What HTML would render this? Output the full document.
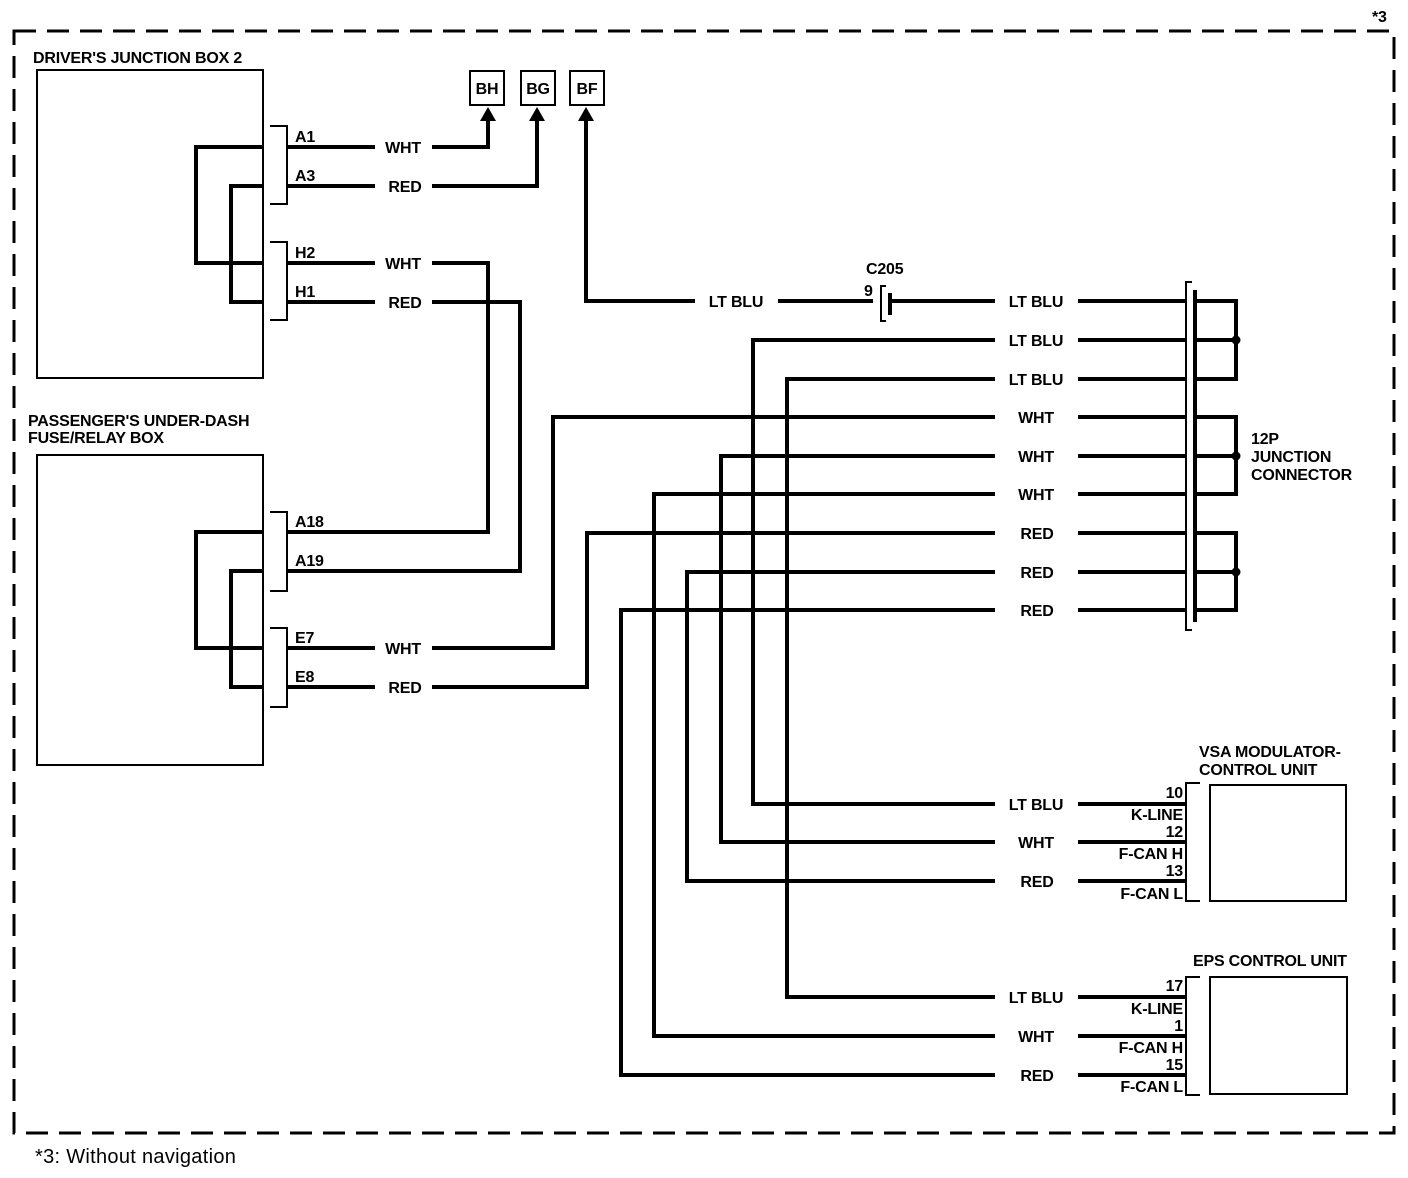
<!DOCTYPE html>
<html><head><meta charset="utf-8"><style>
html,body{margin:0;padding:0;background:#fff}
svg{display:block}
text{font-family:"Liberation Sans",Arial,sans-serif;font-weight:bold;font-size:16px;fill:#000;letter-spacing:-0.2px}
.w{fill:none;stroke:#000;stroke-width:4;stroke-linejoin:miter}
.t{fill:none;stroke:#000;stroke-width:2}
</style></head><body>
<svg width="1408" height="1178" viewBox="0 0 1408 1178" xmlns="http://www.w3.org/2000/svg">
<rect x="14" y="31" width="1380" height="1102" fill="none" stroke="#000" stroke-width="3" stroke-dasharray="22,11"/>
<text x="1372" y="22">*3</text>
<text x="35" y="1163" style="font-weight:normal;font-size:20px;letter-spacing:0.3px">*3:  Without navigation</text>

<!-- Driver's box -->
<text x="33" y="63">DRIVER'S JUNCTION BOX 2</text>
<rect x="37" y="70" width="226" height="308" class="t" stroke-width="2.5"/>
<path class="t" d="M270 126H287V204H270M270 242H287V320H270"/>
<path class="w" d="M263 147H196V263H263M263 186H231V302H263"/>
<text x="295" y="142">A1</text><text x="295" y="181">A3</text>
<text x="295" y="258">H2</text><text x="295" y="297">H1</text>

<!-- Passenger box -->
<text x="28" y="426">PASSENGER'S UNDER-DASH</text>
<text x="28" y="443">FUSE/RELAY BOX</text>
<rect x="37" y="455" width="226" height="310" class="t" stroke-width="2.5"/>
<path class="t" d="M270 512H287V591H270M270 628H287V707H270"/>
<path class="w" d="M263 532H196V648H263M263 571H231V687H263"/>
<text x="295" y="527">A18</text><text x="295" y="566">A19</text>
<text x="295" y="643">E7</text><text x="295" y="682">E8</text>

<!-- BH BG BF -->
<rect x="470" y="71" width="34" height="34" class="t"/>
<rect x="521" y="71" width="34" height="34" class="t"/>
<rect x="570" y="71" width="34" height="34" class="t"/>
<g text-anchor="middle">
<text x="487" y="94">BH</text><text x="538" y="94">BG</text><text x="587" y="94">BF</text>
</g>
<path d="M488 107L480 121H496Z M537 107L529 121H545Z M586 107L578 121H594Z"/>

<!-- left wires -->
<path class="w" d="M287 147H375M432 147H488V119"/>
<path class="w" d="M287 186H375M432 186H537V119"/>
<path class="w" d="M287 263H375M432 263H488V532H287"/>
<path class="w" d="M287 302H375M432 302H520V571H287"/>
<path class="w" d="M287 648H375M432 648H553V417H995"/>
<path class="w" d="M287 687H375M432 687H587V533H995"/>
<g text-anchor="middle">
<text x="403" y="153">WHT</text><text x="405" y="192">RED</text>
<text x="403" y="269">WHT</text><text x="405" y="308">RED</text>
<text x="403" y="654">WHT</text><text x="405" y="693">RED</text>
</g>

<!-- BF / C205 -->
<path class="w" d="M586 119V301H695M778 301H873M890 301H995"/>
<text x="736" y="307" text-anchor="middle">LT BLU</text>
<text x="866" y="274">C205</text>
<text x="864" y="296">9</text>
<path class="t" d="M886 286H881V321H886"/>
<path class="w" d="M890 293V315"/>

<!-- wires to 12P -->
<path class="w" d="M995 340H753V804H995"/>
<path class="w" d="M995 379H787V997H995"/>
<path class="w" d="M995 456H721V842H995"/>
<path class="w" d="M995 494H654V1036H995"/>
<path class="w" d="M995 572H687V881H995"/>
<path class="w" d="M995 610H621V1075H995"/>
<g text-anchor="middle">
<text x="1036" y="307">LT BLU</text>
<text x="1036" y="346">LT BLU</text>
<text x="1036" y="385">LT BLU</text>
<text x="1036" y="423">WHT</text>
<text x="1036" y="462">WHT</text>
<text x="1036" y="500">WHT</text>
<text x="1037" y="539">RED</text>
<text x="1037" y="578">RED</text>
<text x="1037" y="616">RED</text>
</g>
<path class="w" d="M1078 301H1187M1078 340H1187M1078 379H1187M1078 417H1187M1078 456H1187M1078 494H1187M1078 533H1187M1078 572H1187M1078 610H1187"/>
<path class="t" d="M1192 282H1186V630H1192"/>
<path class="w" d="M1195 290V622"/>
<path class="w" d="M1195 301H1236V379H1195M1195 340H1236M1195 417H1236V494H1195M1195 456H1236M1195 533H1236V610H1195M1195 572H1236"/>
<circle cx="1236" cy="340" r="4.5"/><circle cx="1236" cy="456" r="4.5"/><circle cx="1236" cy="572" r="4.5"/>
<text x="1251" y="444">12P</text>
<text x="1251" y="462">JUNCTION</text>
<text x="1251" y="480">CONNECTOR</text>

<!-- VSA -->
<text x="1199" y="757">VSA MODULATOR-</text>
<text x="1199" y="775">CONTROL UNIT</text>
<rect x="1210" y="785" width="136" height="116" class="t" stroke-width="2.5"/>
<path class="t" d="M1200 783H1186V901H1200"/>
<path class="w" d="M1078 804H1186M1078 842H1186M1078 881H1186"/>
<g text-anchor="middle">
<text x="1036" y="810">LT BLU</text><text x="1036" y="848">WHT</text><text x="1037" y="887">RED</text>
</g>
<g text-anchor="end">
<text x="1183" y="798">10</text><text x="1183" y="820">K-LINE</text>
<text x="1183" y="837">12</text><text x="1183" y="859">F-CAN H</text>
<text x="1183" y="876">13</text><text x="1183" y="899">F-CAN L</text>
</g>

<!-- EPS -->
<text x="1193" y="966">EPS CONTROL UNIT</text>
<rect x="1210" y="977" width="137" height="117" class="t" stroke-width="2.5"/>
<path class="t" d="M1200 977H1186V1095H1200"/>
<path class="w" d="M1078 997H1186M1078 1036H1186M1078 1075H1186"/>
<g text-anchor="middle">
<text x="1036" y="1003">LT BLU</text><text x="1036" y="1042">WHT</text><text x="1037" y="1081">RED</text>
</g>
<g text-anchor="end">
<text x="1183" y="991">17</text><text x="1183" y="1014">K-LINE</text>
<text x="1183" y="1031">1</text><text x="1183" y="1053">F-CAN H</text>
<text x="1183" y="1070">15</text><text x="1183" y="1092">F-CAN L</text>
</g>
</svg>
</body></html>
